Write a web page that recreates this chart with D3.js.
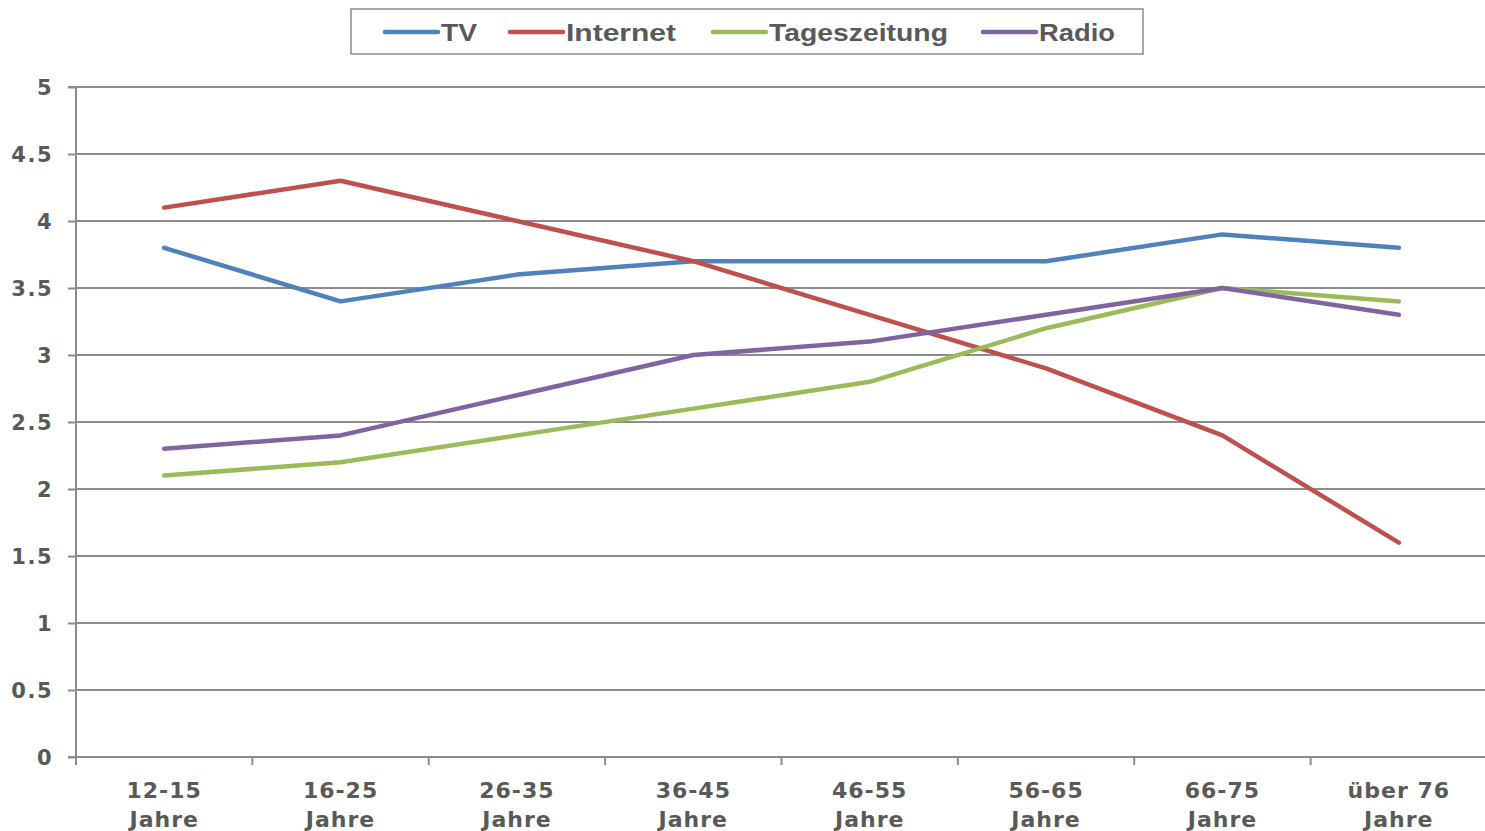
<!DOCTYPE html>
<html><head><meta charset="utf-8">
<script src="https://cdn.jsdelivr.net/npm/d3@7"></script>
<style>body{margin:0;background:#fff;}svg{display:block;}</style>
</head><body>
<svg id="c" width="1485" height="831"></svg>
<script>
const categories = [["12-15","Jahre"],["16-25","Jahre"],["26-35","Jahre"],["36-45","Jahre"],["46-55","Jahre"],["56-65","Jahre"],["66-75","Jahre"],["über 76","Jahre"]];
const seriesNames = ["TV","Internet","Tageszeitung","Radio"];
const seriesColors = ["#4F81BD","#C0504D","#9BBB59","#8064A2"];
const tvValues = [3.8,3.4,3.6,3.7,3.7,3.7,3.9,3.8];
const internetValues = [4.1,4.3,4.0,3.7,3.3,2.9,2.4,1.6];
const zeitungValues = [2.1,2.2,2.4,2.6,2.8,3.2,3.5,3.4];
const radioValues = [2.3,2.4,2.7,3.0,3.1,3.3,3.5,3.3];
const yTicks = [0,0.5,1,1.5,2,2.5,3,3.5,4,4.5,5];

(function(){
const series = [tvValues, internetValues, zeitungValues, radioValues];
const svg = d3.select("#c");
const pL = 76, pR = 1487, pT = 87, pB = 757;
const x = d3.scaleBand().domain(d3.range(categories.length)).range([pL, pR]);
const y = d3.scaleLinear().domain([0,5]).range([pB, pT]);
const gray = "#595959", gridC = "#8c8c8c";

svg.append("g").selectAll("line").data(yTicks.filter(d=>d>0)).join("line")
  .attr("x1", pL).attr("x2", 1485).attr("y1", d=>y(d)).attr("y2", d=>y(d))
  .attr("stroke", gridC).attr("stroke-width", 2);

const ya = svg.append("g").attr("transform", `translate(${pL},0)`)
  .call(d3.axisLeft(y).tickValues(yTicks).tickSize(8).tickFormat(d=>String(d)).tickPadding(15));
ya.select(".domain").attr("stroke", gridC).attr("stroke-width", 2).attr("d", `M-8,${pT}H0V${pB}H-8`);
ya.selectAll(".tick line").attr("stroke", gridC).attr("stroke-width", 2);
ya.selectAll(".tick text").attr("fill", gray).attr("font-family","DejaVu Sans, Verdana, sans-serif")
  .attr("font-weight","bold").attr("font-size","21px").attr("letter-spacing","1.5px").attr("dy","0.36em");

const xa = svg.append("g").attr("transform", `translate(0,${pB})`)
  .call(d3.axisBottom(x).tickSize(0).tickFormat(""));
xa.select(".domain").attr("stroke", gridC).attr("stroke-width", 2).attr("d", `M${pL},0H1485`);
const bounds = d3.range(categories.length+1).map(i => i < categories.length ? x(i) : x(categories.length-1)+x.bandwidth());
svg.append("g").selectAll("line").data(bounds.filter(b=>b<1485)).join("line")
  .attr("x1", d=>d).attr("x2", d=>d).attr("y1", pB).attr("y2", pB+8)
  .attr("stroke", gridC).attr("stroke-width", 2);
const xl = svg.append("g").selectAll("text").data(categories).join("text")
  .attr("x", (d,i)=>x(i)+x.bandwidth()/2).attr("y", 798)
  .attr("text-anchor","middle").attr("fill", gray)
  .attr("font-family","DejaVu Sans, Verdana, sans-serif").attr("font-weight","bold")
  .attr("font-size","22px").attr("letter-spacing","1px");
xl.append("tspan").attr("x",(d,i)=>x(i)+x.bandwidth()/2).text(d=>d[0]);
xl.append("tspan").attr("x",(d,i)=>x(i)+x.bandwidth()/2).attr("dy", 29).text(d=>d[1]);

const line = d3.line().x((d,i)=>x(i)+x.bandwidth()/2).y(d=>y(d));
svg.append("g").selectAll("path").data(series).join("path")
  .attr("d", line).attr("fill","none").attr("stroke",(d,i)=>seriesColors[i])
  .attr("stroke-width",4.5).attr("stroke-linecap","round").attr("stroke-linejoin","round");

svg.append("rect").attr("x",351).attr("y",9).attr("width",792).attr("height",45)
  .attr("fill","#fff").attr("stroke","#8c8c8c").attr("stroke-width",1.5);
const legX = [385, 510, 713, 983];
const legW = [36, 110, 179, 76];
const lg = svg.append("g").selectAll("g").data(seriesNames).join("g")
  .attr("transform",(d,i)=>`translate(${legX[i]},32)`);
lg.append("line").attr("x1",0).attr("x2",53).attr("stroke",(d,i)=>seriesColors[i])
  .attr("stroke-width",4.5).attr("stroke-linecap","round");
lg.append("text").attr("x",56).attr("dy","0.36em").attr("fill",gray)
  .attr("font-family","Liberation Sans Narrow, Liberation Sans, Arial, sans-serif")
  .attr("font-weight","bold").attr("font-size","24px")
  .attr("textLength",(d,i)=>legW[i]).attr("lengthAdjust","spacingAndGlyphs")
  .text(d=>d);
})();
</script>
</body></html>
